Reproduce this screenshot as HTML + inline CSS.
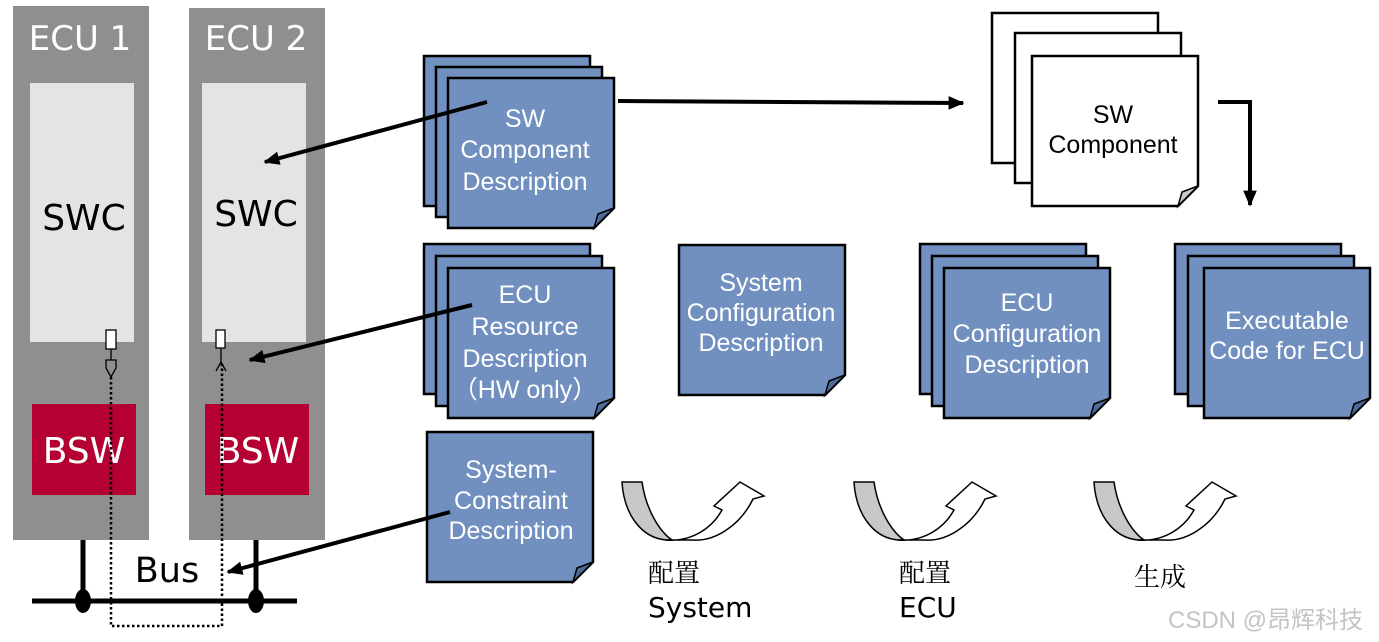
<!DOCTYPE html>
<html><head><meta charset="utf-8"><style>
html,body{margin:0;padding:0;background:#fff;}
svg{display:block;}
.d{font-family:"DejaVu Sans",sans-serif;}
.a{font-family:"Liberation Sans",Arial,sans-serif;}
</style></head><body>
<svg width="1379" height="642" viewBox="0 0 1379 642" xmlns="http://www.w3.org/2000/svg">
<defs>
<marker id="ah" markerWidth="4" markerHeight="3.4" refX="3.6" refY="1.7" orient="auto" markerUnits="strokeWidth"><path d="M0,0 L4,1.7 L0,3.4 z" fill="#000"/></marker>
<g id="bdoc">
  <path d="M0,0 H166 V130 L146,150 H0 Z" fill="#7190c0" stroke="#000" stroke-width="2.5"/>
  <path d="M146,150 L150,136 L166,130 Z" fill="#4d6a99" stroke="#000" stroke-width="1.5"/>
</g>
<g id="wdoc">
  <path d="M0,0 H166 V130 L146,150 H0 Z" fill="#fff" stroke="#000" stroke-width="2.5"/>
  <path d="M146,150 L150,136 L166,130 Z" fill="#c8c8c8" stroke="#000" stroke-width="1.5"/>
</g>
<g id="curl">
  <path d="M0,2 H20 C24,30 38,52 50,60 H44 C20,58 2,35 0,2 Z" fill="#c8c8c8" stroke="#000" stroke-width="1.5"/>
  <path d="M44,60 C70,62 90,48 100,30 L92,26 L118,2 L142,16 L131,19 C118,46 92,62 70,60 Z" fill="#fff" stroke="#000" stroke-width="1.5"/>
</g>
</defs>

<rect x="13" y="6" width="136" height="534" fill="#8f8f8f"/>
<rect x="189" y="8" width="136" height="532" fill="#8f8f8f"/>
<rect x="30" y="83" width="104" height="259" fill="#e4e4e4"/>
<rect x="202" y="83" width="104" height="259" fill="#e4e4e4"/>
<rect x="32" y="404" width="104" height="91" fill="#b40033"/>
<rect x="205" y="404" width="104" height="91" fill="#b40033"/>
<text x="80" y="50" class="d" font-size="34" fill="#fff" text-anchor="middle">ECU 1</text>
<text x="256" y="50" class="d" font-size="34" fill="#fff" text-anchor="middle">ECU 2</text>
<text x="84" y="230" class="d" font-size="36" fill="#000" text-anchor="middle">SWC</text>
<text x="256" y="226" class="d" font-size="36" fill="#000" text-anchor="middle">SWC</text>
<text x="84" y="463" class="d" font-size="36" fill="#fff" text-anchor="middle">BSW</text>
<text x="258" y="463" class="d" font-size="36" fill="#fff" text-anchor="middle">BSW</text>

<rect x="106" y="330" width="10" height="19" fill="#fff" stroke="#000" stroke-width="1.3"/>
<line x1="111" y1="349" x2="111" y2="360" stroke="#000" stroke-width="1.3"/>
<path d="M106,360 H116 V368 L111,377 L106,368 Z" fill="none" stroke="#000" stroke-width="1.3"/>
<rect x="216" y="330" width="9" height="18" fill="#fff" stroke="#000" stroke-width="1.3"/>
<line x1="221" y1="348" x2="221" y2="362" stroke="#000" stroke-width="1.3"/>
<path d="M216,371 L221,362 L226,371" fill="none" stroke="#000" stroke-width="1.3"/>
<path d="M111,377 V626 H222 V364" fill="none" stroke="#000" stroke-width="2.5" stroke-dasharray="2.5,2.5"/>

<line x1="83" y1="540" x2="83" y2="601" stroke="#000" stroke-width="5"/>
<line x1="256" y1="540" x2="256" y2="601" stroke="#000" stroke-width="5"/>
<line x1="32" y1="601" x2="297" y2="601" stroke="#000" stroke-width="5"/>
<ellipse cx="83" cy="601" rx="8" ry="12" fill="#000"/>
<ellipse cx="256" cy="601" rx="8" ry="12" fill="#000"/>
<text x="167" y="582" class="d" font-size="35" fill="#000" text-anchor="middle">Bus</text>

<use href="#bdoc" x="424" y="56"/><use href="#bdoc" x="436" y="67"/><use href="#bdoc" x="448" y="78"/>
<text class="a" font-size="25" fill="#fff" text-anchor="middle"><tspan x="525" y="127">SW</tspan><tspan x="525" y="158">Component</tspan><tspan x="525" y="190">Description</tspan></text>

<use href="#bdoc" x="424" y="244"/><use href="#bdoc" x="436" y="256"/><use href="#bdoc" x="448" y="268"/>
<text class="a" font-size="25" fill="#fff" text-anchor="middle"><tspan x="525" y="303">ECU</tspan><tspan x="525" y="335">Resource</tspan><tspan x="525" y="367">Description</tspan><tspan x="525" y="398">（HW only）</tspan></text>

<use href="#bdoc" x="427" y="432"/>
<text class="a" font-size="25" fill="#fff" text-anchor="middle"><tspan x="511" y="478">System-</tspan><tspan x="511" y="509">Constraint</tspan><tspan x="511" y="539">Description</tspan></text>

<use href="#bdoc" x="679" y="245"/>
<text class="a" font-size="25" fill="#fff" text-anchor="middle"><tspan x="761" y="291">System</tspan><tspan x="761" y="321">Configuration</tspan><tspan x="761" y="351">Description</tspan></text>

<use href="#bdoc" x="920" y="244"/><use href="#bdoc" x="932" y="256"/><use href="#bdoc" x="944" y="268"/>
<text class="a" font-size="25" fill="#fff" text-anchor="middle"><tspan x="1027" y="311">ECU</tspan><tspan x="1027" y="342">Configuration</tspan><tspan x="1027" y="373">Description</tspan></text>

<use href="#bdoc" x="1175" y="244"/><use href="#bdoc" x="1188" y="256"/><use href="#bdoc" x="1204" y="268"/>
<text class="a" font-size="25" fill="#fff" text-anchor="middle"><tspan x="1287" y="329">Executable</tspan><tspan x="1287" y="359">Code for ECU</tspan></text>

<use href="#wdoc" x="992" y="13"/><use href="#wdoc" x="1015" y="33"/><use href="#wdoc" x="1032" y="56"/>
<text class="a" font-size="25" fill="#000" text-anchor="middle"><tspan x="1113" y="123">SW</tspan><tspan x="1113" y="153">Component</tspan></text>

<line x1="487" y1="102" x2="265" y2="162" stroke="#000" stroke-width="4" marker-end="url(#ah)"/>
<line x1="472" y1="305" x2="250" y2="360" stroke="#000" stroke-width="4" marker-end="url(#ah)"/>
<line x1="450" y1="512" x2="228" y2="572" stroke="#000" stroke-width="4" marker-end="url(#ah)"/>
<line x1="618" y1="101" x2="963" y2="103" stroke="#000" stroke-width="4" marker-end="url(#ah)"/>
<path d="M1218,102 H1250 V205" fill="none" stroke="#000" stroke-width="4" marker-end="url(#ah)"/>

<use href="#curl" x="622" y="480"/>
<use href="#curl" x="854" y="480"/>
<use href="#curl" x="1094" y="480"/>
<text x="648" y="582" font-family="'Noto Serif CJK SC',serif" font-size="26" fill="#000">配置</text>
<text x="648" y="617" class="d" font-size="28" fill="#000">System</text>
<text x="899" y="582" font-family="'Noto Serif CJK SC',serif" font-size="26" fill="#000">配置</text>
<text x="899" y="617" class="d" font-size="28" fill="#000">ECU</text>
<text x="1134" y="586" font-family="'Noto Serif CJK SC',serif" font-size="26" fill="#000">生成</text>
<text x="1168" y="628" font-family="'Liberation Sans','Noto Sans CJK SC',sans-serif" font-size="24" fill="#c4c4c4">CSDN @昂辉科技</text>
</svg>
</body></html>
